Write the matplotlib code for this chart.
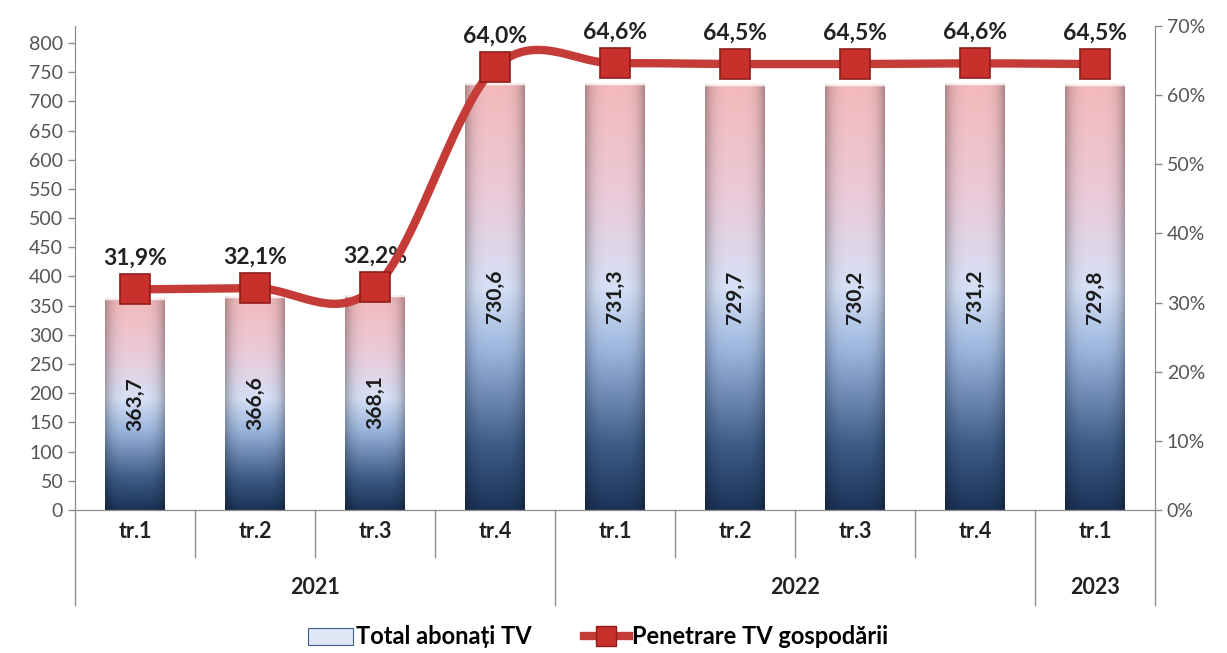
import numpy as np
import matplotlib.pyplot as plt
import matplotlib.transforms as mtransforms
from matplotlib.colors import LinearSegmentedColormap
from matplotlib.patches import Patch
from matplotlib.lines import Line2D

plt.rcParams['font.family'] = ['Lato', 'DejaVu Sans']

# data
quarters = ["tr.1", "tr.2", "tr.3", "tr.4", "tr.1", "tr.2", "tr.3", "tr.4", "tr.1"]
years = ["2021", "2022", "2023"]
year_span = [4, 4, 1]
subscribers = [363.7, 366.6, 368.1, 730.6, 731.3, 729.7, 730.2, 731.2, 729.8]
penetration = [31.9, 32.1, 32.2, 64.0, 64.6, 64.5, 64.5, 64.6, 64.5]

fig = plt.figure(figsize=(12.27, 6.53), dpi=100)
ax = fig.add_axes([75 / 1227, 1 - 510 / 653, 1080 / 1227, 484 / 653])
ax2 = ax.twinx()

x = np.arange(len(quarters))
ax.set_xlim(-0.5, len(quarters) - 0.5)
ax.set_ylim(0, 829)
ax2.set_ylim(0, 70)

# gradient bars
cmap = LinearSegmentedColormap.from_list("bar", [
    (0.0, "#1c3357"), (0.15, "#3d5c88"), (0.38, "#9fb8df"),
    (0.52, "#d6e0f6"), (0.75, "#ecc9d6"), (1.0, "#f3b9bb")])
vert = np.linspace(0, 1, 256)[:, None]
u = np.linspace(-1, 1, 64)[None, :]
rgb = cmap(np.repeat(vert, 64, axis=1))[..., :3]
shade = 1 - 0.28 * np.abs(u) ** 4
img = np.clip(rgb * shade[..., None], 0, 1)

bw = 0.5
bars = ax.bar(x, subscribers, width=bw, color="none", edgecolor="none", zorder=2)
for b in bars:
    x0, w, h = b.get_x(), b.get_width(), b.get_height()
    im = ax.imshow(img, extent=[x0, x0 + w, 0, h], origin="lower",
                   aspect="auto", zorder=2, interpolation="bilinear")
    im.set_clip_path(b)
    ax.plot([x0, x0 + w], [h, h], color="white", lw=2.5, alpha=0.8, zorder=3)
for xi, v in zip(x, subscribers):
    ax.text(xi, v / 2, f"{v:.1f}".replace(".", ","), rotation=90,
            ha="center", va="center", fontsize=15, fontweight="bold",
            color="#1a1a1a", zorder=4)

# smoothed line (Catmull-Rom like Excel)
p = np.array(penetration)
xs, ys = [], []
for i in range(len(p) - 1):
    m0 = (p[i + 1] - p[i - 1]) / 2 if i > 0 else p[i + 1] - p[i]
    m1 = (p[i + 2] - p[i]) / 2 if i + 2 < len(p) else p[i + 1] - p[i]
    t = np.linspace(0, 1, 40)
    h00 = 2 * t**3 - 3 * t**2 + 1
    h10 = t**3 - 2 * t**2 + t
    h01 = -2 * t**3 + 3 * t**2
    h11 = t**3 - t**2
    xs.extend(i + t)
    ys.extend(h00 * p[i] + h10 * m0 + h01 * p[i + 1] + h11 * m1)
ax2.plot(xs, ys, color="#c43b37", lw=6, zorder=5, solid_capstyle="round")
ax2.plot(x, p, ls="none", marker="s", markersize=21, markerfacecolor="#c8302c",
         markeredgecolor="#8e1d1b", markeredgewidth=1.2, zorder=6)
for xi, v in zip(x, p):
    ax2.text(xi, v + 3.0, f"{v:.1f}%".replace(".", ","), ha="center",
             va="bottom", fontsize=16.5, fontweight="bold", color="#222222")

# axes styling
grey = "#8c8c8c"
ax.set_yticks(np.arange(0, 801, 50))
ax2.set_yticks(np.arange(0, 71, 10))
ax2.set_yticklabels([f"{v}%" for v in range(0, 71, 10)])
for a in (ax, ax2):
    a.spines["top"].set_visible(False)
    a.spines["left"].set_color(grey)
    a.spines["right"].set_color(grey)
    a.spines["bottom"].set_color(grey)
    a.tick_params(axis="y", colors=grey, labelcolor="#555555", labelsize=14,
                  length=5, width=1)
ax.set_xticks([])
ax2.set_xticks([])
ax.set_zorder(ax2.get_zorder() - 1)
ax.patch.set_visible(False)

# category axis
tr = mtransforms.blended_transform_factory(ax.transData, ax.transAxes)
ax_h = 484
q_depth = -47 / ax_h
y_depth = -95 / ax_h
bounds = np.cumsum([0] + year_span) - 0.5
for b in np.arange(-0.5, len(quarters)):
    d = y_depth if b in bounds else q_depth
    ax.plot([b, b], [0, d], transform=tr, color=grey, lw=1, clip_on=False)
for xi, q in zip(x, quarters):
    ax.text(xi, -22 / ax_h, q, transform=tr, ha="center", va="center",
            fontsize=15.5, fontweight="bold", color="#222222")
for i, yr in enumerate(years):
    c = (bounds[i] + bounds[i + 1]) / 2
    ax.text(c, -78 / ax_h, yr, transform=tr, ha="center", va="center",
            fontsize=15.5, fontweight="bold", color="#222222")

# legend
handles = [Patch(facecolor="#dfe6f5", edgecolor="#3d5c88", lw=0.8),
           Line2D([], [], color="#c43b37", lw=6, marker="s", markersize=15,
                  markerfacecolor="#c8302c", markeredgecolor="#8e1d1b")]
fig.legend(handles, ["Total abonați TV", "Penetrare TV gospodării"],
           loc="center", bbox_to_anchor=(598 / 1227, 1 - 637 / 653), ncol=2,
           frameon=False, prop={"size": 17, "weight": "bold"},
           handlelength=1.9, handletextpad=0.15, columnspacing=2.2)

fig.savefig("out.png", dpi=100)
